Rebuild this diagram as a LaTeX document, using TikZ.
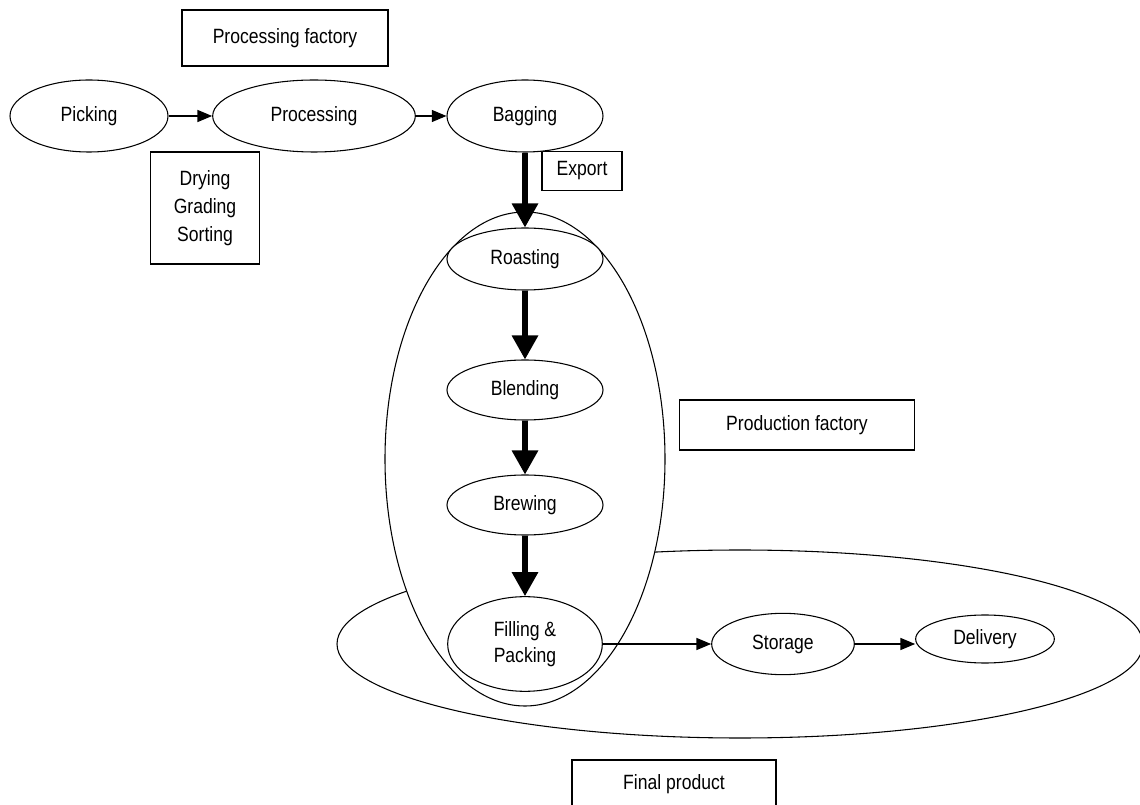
\documentclass[tikz,border=0pt]{standalone}
\usepackage{fontspec}
\setmainfont[FakeStretch=0.85]{Liberation Sans}
\usetikzlibrary{shapes.geometric,arrows.meta}
\begin{document}
\begin{tikzpicture}[x=0.75pt,y=-0.75pt,
  every node/.style={font=\fontsize{15.5}{21}\selectfont},
  oval/.style={ellipse,draw,fill=white,inner sep=0pt,line width=0.8pt},
  bigoval/.style={ellipse,draw,fill=white,inner sep=0pt,line width=0.8pt},
  lbl/.style={rectangle,draw,fill=white,inner sep=0pt,line width=0.9pt,align=center},
  thin/.style={line width=0.9pt,-{Triangle[length=11pt,width=9pt]}},
  thick/.style={line width=3.8pt,-{Triangle[length=18pt,width=19pt]}}]
\useasboundingbox (0,0) rectangle (1140,805);
% enclosing regions
\node[bigoval,minimum width=604.5pt,minimum height=141pt] (finalreg) at (740,644) {};
\node[bigoval,minimum width=210pt,minimum height=370.5pt] (prodreg) at (525,459) {};
% labels
\node[lbl,minimum width=154.5pt,minimum height=42pt] (pf) at (285,38) {Processing factory};
\node[lbl,minimum width=82pt,minimum height=84pt] (dgs) at (205,208) {Drying\\Grading\\Sorting};
\node[lbl,minimum width=60pt,minimum height=29pt] (exp) at (582,171) {Export};
\node[lbl,minimum width=176pt,minimum height=37.5pt] (prodf) at (797,425) {Production factory};
\node[lbl,minimum width=153pt,minimum height=36pt] (finp) at (674,784) {Final product};
% steps
\node[oval,minimum width=118.5pt,minimum height=54pt] (pick) at (89,116) {Picking};
\node[oval,minimum width=152pt,minimum height=54pt] (proc) at (314,116) {Processing};
\node[oval,minimum width=117pt,minimum height=54pt] (bag) at (525,116) {Bagging};
\node[oval,minimum width=117pt,minimum height=46.5pt] (roast) at (525,259) {Roasting};
\node[oval,minimum width=117pt,minimum height=45pt] (blend) at (525,390) {Blending};
\node[oval,minimum width=117pt,minimum height=45pt] (brew) at (525,505) {Brewing};
\node[oval,minimum width=116pt,minimum height=71pt,align=center,font=\fontsize{15.5}{19}\selectfont] (fill) at (525,644) {Filling \&\\Packing};
\node[oval,minimum width=107pt,minimum height=46pt] (stor) at (783,644) {Storage};
\node[oval,minimum width=104pt,minimum height=36pt] (deli) at (985,639) {Delivery};
% connectors
\draw[thin] (pick.east) -- (proc.west);
\draw[thin] (proc.east) -- (bag.west);
\draw[thick] (bag.south) -- (roast.north);
\draw[thick] (roast.south) -- (blend.north);
\draw[thick] (blend.south) -- (brew.north);
\draw[thick] (brew.south) -- (fill.north);
\draw[thin] (fill.east) -- (stor.west);
\draw[thin] (stor.east) -- (deli.west |- stor.east);
\end{tikzpicture}
\end{document}
